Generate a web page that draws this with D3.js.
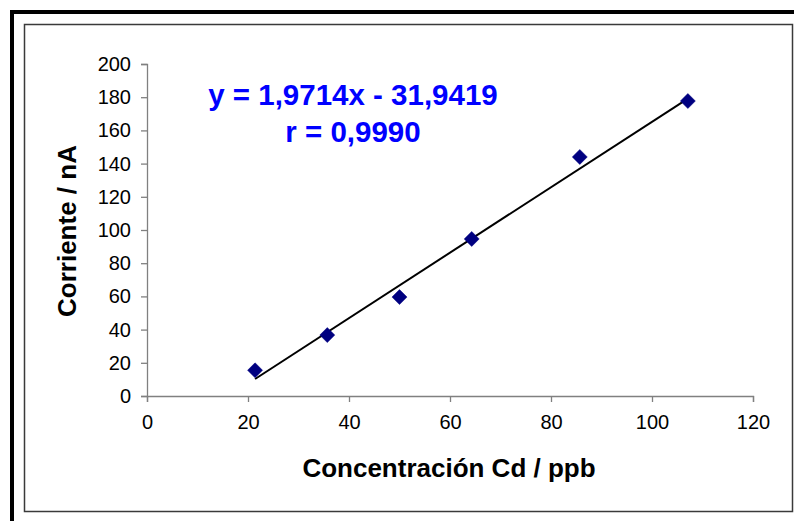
<!DOCTYPE html>
<html>
<head>
<meta charset="utf-8">
<title>Calibración Cd</title>
<script src="https://d3js.org/d3.v7.min.js"></script>
<style>
    body { margin: 0; background: #ffffff; }
    svg { display: block; font-family: "Liberation Sans", Arial, sans-serif; }
</style>
</head>
<body>
<div id="chart"></div>
<script>
// Data
const concentrations = [21.4, 35.7, 50.0, 64.3, 85.7, 107.1];
const currents = [15.5, 36.7, 59.6, 94.6, 144.0, 177.7];
const xTicks = [0, 20, 40, 60, 80, 100, 120];
const yTicks = [0, 20, 40, 60, 80, 100, 120, 140, 160, 180, 200];
const slope = 1.9714;
const intercept = -31.9419;
const equationText = 'y = 1,9714x - 31,9419';
const rText = 'r = 0,9990';

const width = 794;
const height = 521;

const svg = d3.select('#chart')
    .append('svg')
    .attr('width', width)
    .attr('height', height);

// Frames
svg.append('rect')
    .attr('x', 12).attr('y', 12)
    .attr('width', width + 20).attr('height', height + 20)
    .attr('fill', 'none')
    .attr('stroke', '#000')
    .attr('stroke-width', 4);

svg.append('rect')
    .attr('x', 24.5).attr('y', 24.5)
    .attr('width', 768).attr('height', 487)
    .attr('fill', '#fff')
    .attr('stroke', '#3a3a3a')
    .attr('stroke-width', 1.5);

const x = d3.scaleLinear().domain([0, 120]).range([147, 753]);
const y = d3.scaleLinear().domain([0, 200]).range([396, 64]);

// Axes
const xAxis = svg.append('g')
    .attr('transform', `translate(0,${y(0)})`)
    .call(d3.axisBottom(x).tickValues(xTicks).tickSize(6).tickPadding(13));

const yAxis = svg.append('g')
    .attr('transform', `translate(${x(0)},0)`)
    .call(d3.axisLeft(y).tickValues(yTicks).tickSize(6).tickPadding(10));

[xAxis, yAxis].forEach(g => {
    g.select('.domain').attr('stroke', '#808080').attr('stroke-width', 1.3);
    g.selectAll('.tick line').attr('stroke', '#808080').attr('stroke-width', 1.3);
    g.selectAll('.tick text')
        .attr('fill', '#000')
        .style('font-size', '20px')
        .style('font-family', '"Liberation Sans", Arial, sans-serif');
});

// Regression line
const xMin = d3.min(concentrations);
const xMax = d3.max(concentrations);
svg.append('line')
    .attr('x1', x(xMin)).attr('y1', y(slope * xMin + intercept))
    .attr('x2', x(xMax)).attr('y2', y(slope * xMax + intercept))
    .attr('stroke', '#000')
    .attr('stroke-width', 2);

// Points
svg.append('g')
    .selectAll('path')
    .data(concentrations.map((c, i) => [c, currents[i]]))
    .enter()
    .append('path')
    .attr('transform', d => `translate(${x(d[0])},${y(d[1])})`)
    .attr('d', 'M0,-7.5L7.5,0L0,7.5L-7.5,0Z')
    .attr('fill', '#000080')
    .attr('stroke', '#000080')
    .attr('stroke-width', 0.5);

// Equation
svg.append('text')
    .attr('x', 353).attr('y', 105)
    .attr('text-anchor', 'middle')
    .attr('fill', '#0000ff')
    .style('font-weight', 'bold')
    .style('font-size', '29.5px')
    .text(equationText);

svg.append('text')
    .attr('x', 353).attr('y', 142)
    .attr('text-anchor', 'middle')
    .attr('fill', '#0000ff')
    .style('font-weight', 'bold')
    .style('font-size', '29.5px')
    .text(rText);

// Axis titles
svg.append('text')
    .attr('x', 449).attr('y', 477)
    .attr('text-anchor', 'middle')
    .style('font-weight', 'bold')
    .style('font-size', '26px')
    .text('Concentración Cd / ppb');

svg.append('text')
    .attr('transform', 'translate(76,231) rotate(-90)')
    .attr('text-anchor', 'middle')
    .style('font-weight', 'bold')
    .style('font-size', '26px')
    .text('Corriente / nA');
</script>
</body>
</html>
